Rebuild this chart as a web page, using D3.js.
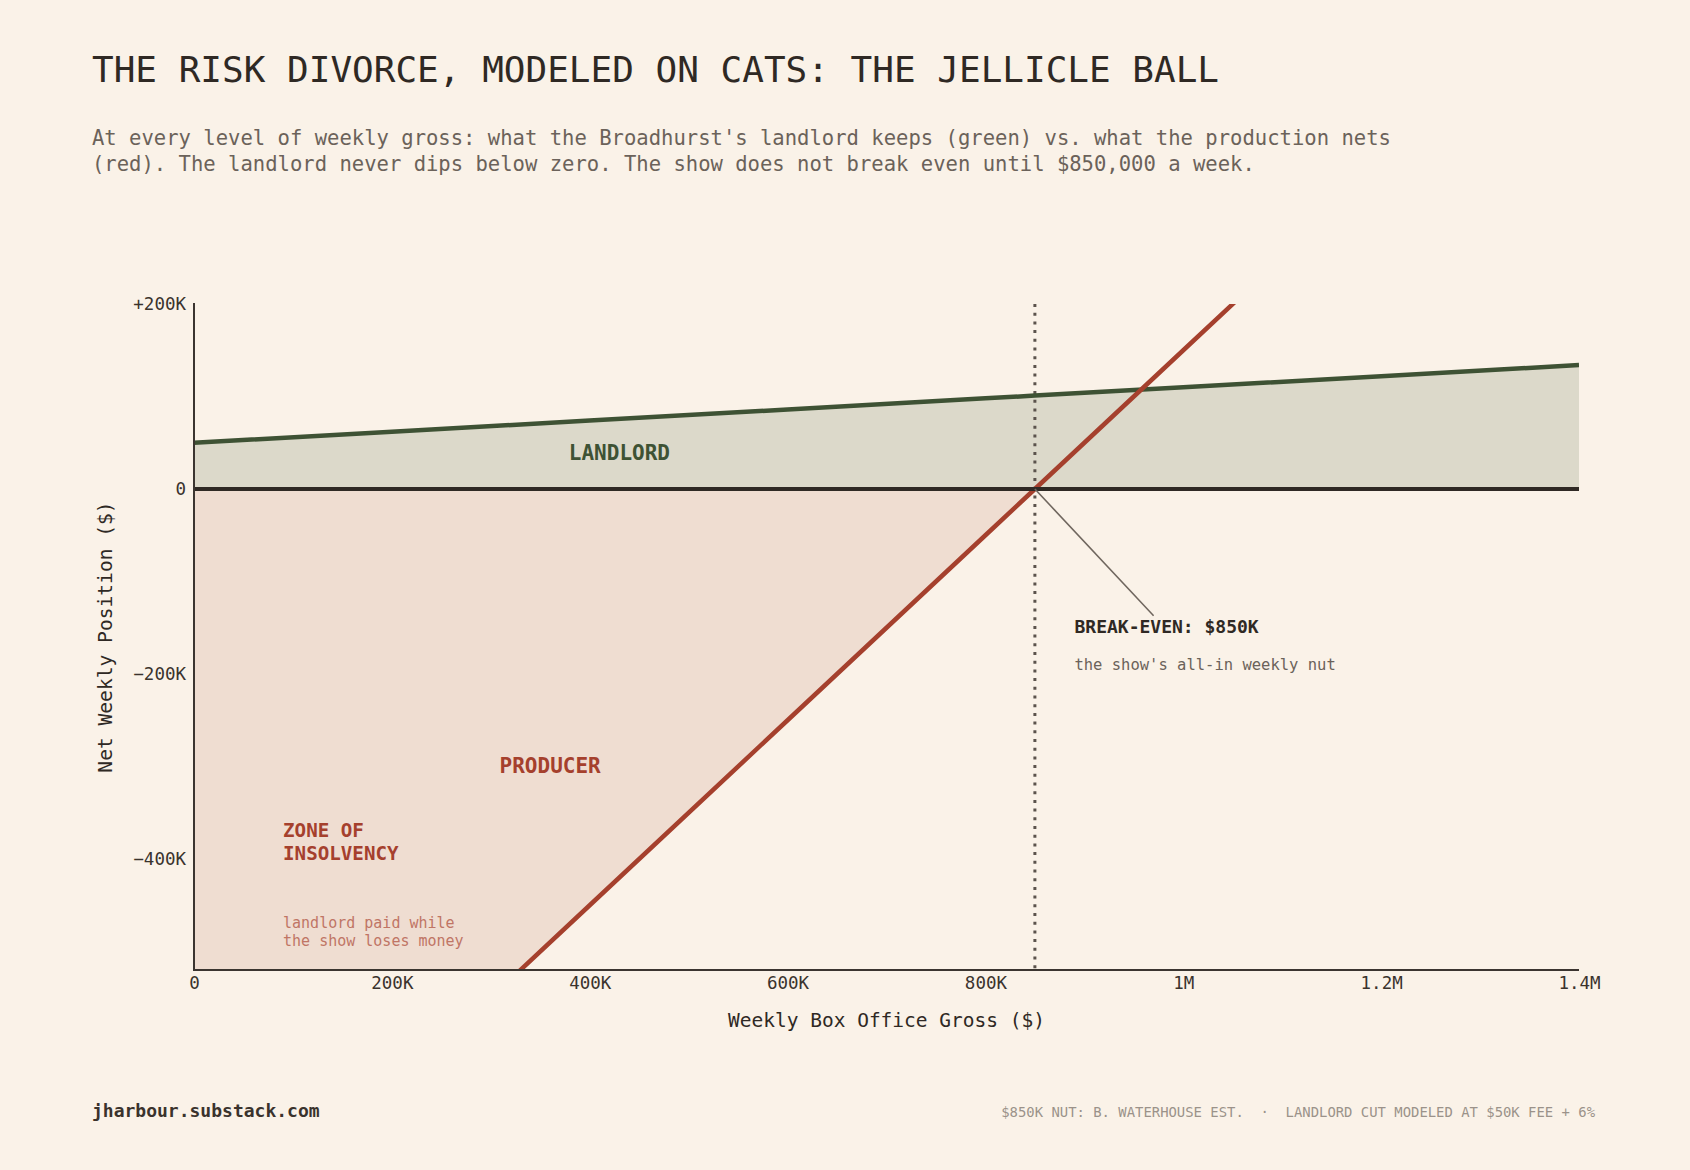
<!DOCTYPE html>
<html><head><meta charset="utf-8">
<script src="https://cdn.jsdelivr.net/npm/d3@7"></script>
<style>
body{margin:0;background:#faf2e8}
svg{display:block}
text{font-family:"DejaVu Sans Mono",monospace}
</style></head>
<body><svg id="chart" width="1690" height="1170"></svg>
<script>
// ---- data ----
const gross = [0, 200000, 400000, 600000, 800000, 850000, 1000000, 1200000, 1400000];
const landlordNet = [50000, 62000, 74000, 86000, 98000, 101000, 110000, 122000, 134000];
const producerNet = [-850000, -650000, -450000, -250000, -50000, 0, 150000, 350000, 550000];
const breakEven = 850000;
const xTickValues = [0, 200000, 400000, 600000, 800000, 1000000, 1200000, 1400000];
const xTickLabels = ["0", "200K", "400K", "600K", "800K", "1M", "1.2M", "1.4M"];
const yTickValues = [200000, 0, -200000, -400000];
const yTickLabels = ["+200K", "0", "\u2212200K", "\u2212400K"];

const C = {
  bg: "#faf2e8", ink: "#2f2924", sub: "#6b625a", green: "#3e5234", greenFill: "#dcd9ca",
  red: "#a5402d", redFill: "#efddd1", redSoft: "#c07565", axis: "#3b3530", foot: "#9b928a"
};

const svg = d3.select("#chart");
svg.append("rect").attr("width", 1690).attr("height", 1170).attr("fill", C.bg);

const m = {left: 194, right: 1579, top: 304, bottom: 970};
const x = d3.scaleLinear().domain([0, 1400000]).range([m.left, m.right]);
const y = d3.scaleLinear().domain([-520000, 200000]).range([m.bottom, m.top]);

// title & subtitle
svg.append("text").attr("x", 92).attr("y", 82).attr("font-size", 36).attr("fill", C.ink)
  .text("THE RISK DIVORCE, MODELED ON CATS: THE JELLICLE BALL");
const subLines = [
  "At every level of weekly gross: what the Broadhurst's landlord keeps (green) vs. what the production nets",
  "(red). The landlord never dips below zero. The show does not break even until $850,000 a week."
];
svg.append("text").attr("x", 92).attr("y", 145).attr("font-size", 20.55).attr("fill", C.sub)
  .selectAll("tspan").data(subLines).join("tspan")
  .attr("x", 92).attr("dy", (d, i) => i ? 25.5 : 0).text(d => d);

// clip
svg.append("clipPath").attr("id", "plot").append("rect")
  .attr("x", m.left).attr("y", m.top).attr("width", m.right - m.left).attr("height", m.bottom - m.top);
const g = svg.append("g").attr("clip-path", "url(#plot)");

const idx = d3.range(gross.length);

// fills
g.append("path").datum(idx).attr("fill", C.redFill)
  .attr("d", d3.area().x(i => x(gross[i])).y0(y(0)).y1(i => y(Math.min(producerNet[i], 0))));
g.append("path").datum(idx).attr("fill", C.greenFill)
  .attr("d", d3.area().x(i => x(gross[i])).y0(y(0)).y1(i => y(landlordNet[i])));

// break-even dotted line
g.append("line").attr("x1", x(breakEven)).attr("x2", x(breakEven))
  .attr("y1", y(200000)).attr("y2", m.bottom)
  .attr("stroke", "#5b534c").attr("stroke-width", 3).attr("stroke-dasharray", "3,5.7");

// zero line
svg.append("line").attr("x1", m.left).attr("x2", m.right).attr("y1", y(0)).attr("y2", y(0))
  .attr("stroke", C.ink).attr("stroke-width", 4);

// series lines
g.append("path").datum(idx).attr("fill", "none").attr("stroke", C.green).attr("stroke-width", 4.5)
  .attr("d", d3.line().x(i => x(gross[i])).y(i => y(landlordNet[i])));
g.append("path").datum(idx).attr("fill", "none").attr("stroke", C.red).attr("stroke-width", 4.5)
  .attr("d", d3.line().x(i => x(gross[i])).y(i => y(producerNet[i])));

// axes lines
svg.append("line").attr("x1", m.left).attr("x2", m.left).attr("y1", m.top - 1).attr("y2", m.bottom + 1)
  .attr("stroke", C.axis).attr("stroke-width", 2);
svg.append("line").attr("x1", m.left - 1).attr("x2", m.right).attr("y1", m.bottom).attr("y2", m.bottom)
  .attr("stroke", C.axis).attr("stroke-width", 2);

// axes labels
const xAxis = d3.axisBottom(x).tickValues(xTickValues).tickSize(0).tickPadding(6.5)
  .tickFormat((d, i) => xTickLabels[i]);
const xa = svg.append("g").attr("transform", `translate(0,${m.bottom})`).call(xAxis);
xa.select(".domain").remove();
xa.selectAll("text").attr("font-family", "DejaVu Sans Mono").attr("font-size", 17.5).attr("fill", "#3a332d");

const yAxis = d3.axisLeft(y).tickValues(yTickValues).tickSize(0).tickPadding(8)
  .tickFormat((d, i) => yTickLabels[i]);
const ya = svg.append("g").attr("transform", `translate(${m.left},0)`).call(yAxis);
ya.select(".domain").remove();
ya.selectAll("text").attr("font-family", "DejaVu Sans Mono").attr("font-size", 17.5).attr("fill", "#3a332d");

svg.append("text").attr("x", (m.left + m.right) / 2).attr("y", 1027).attr("text-anchor", "middle")
  .attr("font-size", 19.5).attr("fill", C.ink).text("Weekly Box Office Gross ($)");
svg.append("text").attr("transform", `translate(112,${(m.top + m.bottom) / 2}) rotate(-90)`)
  .attr("text-anchor", "middle").attr("font-size", 19.6).attr("fill", C.ink).text("Net Weekly Position ($)");

// area labels
svg.append("text").attr("x", x(430000)).attr("y", y(31500)).attr("text-anchor", "middle")
  .attr("font-size", 21).attr("font-weight", 700).attr("fill", C.green).text("LANDLORD");
svg.append("text").attr("x", x(360000)).attr("y", y(-307500)).attr("text-anchor", "middle")
  .attr("font-size", 21).attr("font-weight", 700).attr("fill", C.red).text("PRODUCER");

const zone = svg.append("text").attr("font-size", 19.2).attr("font-weight", 700).attr("fill", C.red);
zone.append("tspan").attr("x", x(90000)).attr("y", y(-376500)).text("ZONE OF");
zone.append("tspan").attr("x", x(90000)).attr("y", y(-401500)).text("INSOLVENCY");
const zsub = svg.append("text").attr("font-size", 15).attr("fill", C.redSoft);
zsub.append("tspan").attr("x", x(90000)).attr("y", y(-474500)).text("landlord paid while");
zsub.append("tspan").attr("x", x(90000)).attr("y", y(-494500)).text("the show loses money");

// break-even annotation
svg.append("line").attr("x1", x(breakEven)).attr("y1", y(0)).attr("x2", x(970000)).attr("y2", y(-137000))
  .attr("stroke", "#6f665e").attr("stroke-width", 1.6);
svg.append("text").attr("x", x(890000)).attr("y", y(-155500)).attr("font-size", 18).attr("font-weight", 700)
  .attr("fill", C.ink).text("BREAK-EVEN: $850K");
svg.append("text").attr("x", x(890000)).attr("y", y(-196000)).attr("font-size", 15.5)
  .attr("fill", C.sub).text("the show's all-in weekly nut");

// footer
svg.append("text").attr("x", 92).attr("y", 1117).attr("font-size", 18).attr("font-weight", 700)
  .attr("fill", "#3a332d").text("jharbour.substack.com");
svg.append("text").attr("x", 1595).attr("y", 1117).attr("text-anchor", "end").attr("font-size", 13.9)
  .attr("fill", C.foot).text("$850K NUT: B. WATERHOUSE EST.  \u00b7  LANDLORD CUT MODELED AT $50K FEE + 6%")
  .attr("xml:space", "preserve").style("white-space", "pre");
</script></body></html>
